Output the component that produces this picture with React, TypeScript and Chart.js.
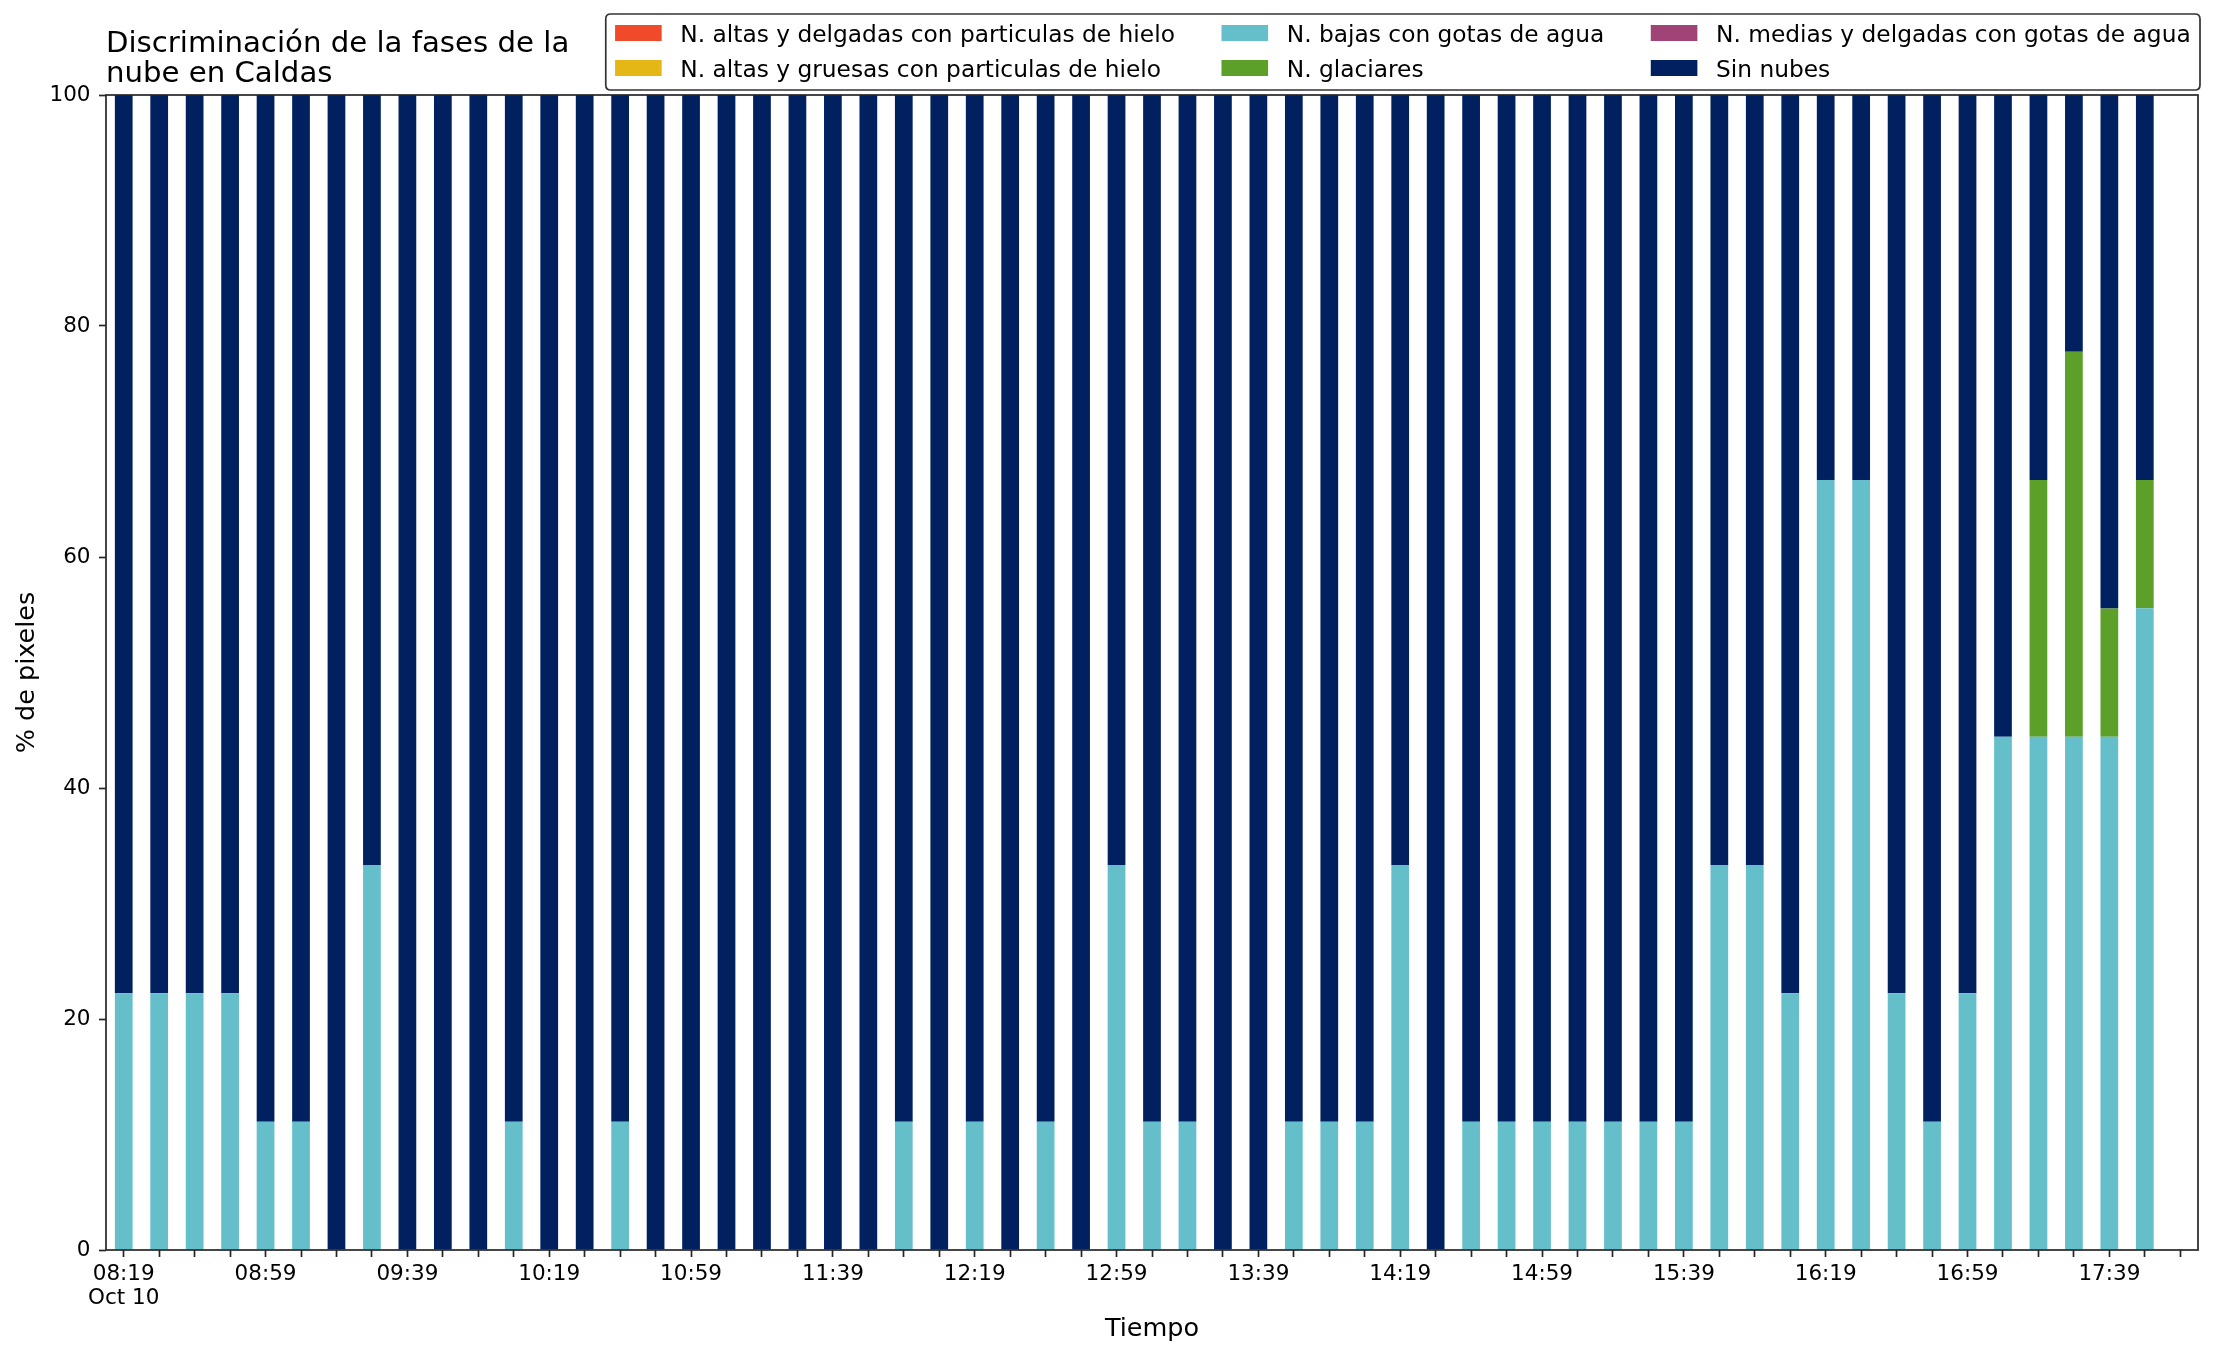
import React, { useEffect, useRef } from 'react';
import { Chart, registerables } from 'chart.js';

Chart.register(...registerables);

const TITLE_LINES = ['Discriminación de la fases de la', 'nube en Caldas'];
const X_TITLE = 'Tiempo';
const Y_TITLE = '% de pixeles';
const DATE_LABEL = 'Oct 10';

const TIMES = [
  '08:19', '08:29', '08:39', '08:49', '08:59',
  '09:09', '09:19', '09:29', '09:39', '09:49', '09:59',
  '10:09', '10:19', '10:29', '10:39', '10:49', '10:59',
  '11:09', '11:19', '11:29', '11:39', '11:49', '11:59',
  '12:09', '12:19', '12:29', '12:39', '12:49', '12:59',
  '13:09', '13:19', '13:29', '13:39', '13:49', '13:59',
  '14:09', '14:19', '14:29', '14:39', '14:49', '14:59',
  '15:09', '15:19', '15:29', '15:39', '15:49', '15:59',
  '16:09', '16:19', '16:29', '16:39', '16:49', '16:59',
  '17:09', '17:19', '17:29', '17:39', '17:49', '17:59',
];

const SERIES_NAMES = [
  'N. altas y delgadas con particulas de hielo',
  'N. altas y gruesas con particulas de hielo',
  'N. bajas con gotas de agua',
  'N. glaciares',
  'N. medias y delgadas con gotas de agua',
  'Sin nubes',
];

const SERIES_COLORS = ['#F04A2B', '#E4B716', '#64BFCA', '#5C9F29', '#A04376', '#00205F'];

const altasDelgadas = [
  0, 0, 0, 0, 0, 0, 0, 0, 0, 0, 0, 0, 0, 0, 0, 0, 0, 0, 0, 0,
  0, 0, 0, 0, 0, 0, 0, 0, 0, 0, 0, 0, 0, 0, 0, 0, 0, 0, 0, 0,
  0, 0, 0, 0, 0, 0, 0, 0, 0, 0, 0, 0, 0, 0, 0, 0, 0, 0, null,
];

const altasGruesas = [
  0, 0, 0, 0, 0, 0, 0, 0, 0, 0, 0, 0, 0, 0, 0, 0, 0, 0, 0, 0,
  0, 0, 0, 0, 0, 0, 0, 0, 0, 0, 0, 0, 0, 0, 0, 0, 0, 0, 0, 0,
  0, 0, 0, 0, 0, 0, 0, 0, 0, 0, 0, 0, 0, 0, 0, 0, 0, 0, null,
];

const bajasGotas = [
  22.22, 22.22, 22.22, 22.22, 11.11, 11.11, 0, 33.33, 0, 0,
  0, 11.11, 0, 0, 11.11, 0, 0, 0, 0, 0,
  0, 0, 11.11, 0, 11.11, 0, 11.11, 0, 33.33, 11.11,
  11.11, 0, 0, 11.11, 11.11, 11.11, 33.33, 0, 11.11, 11.11,
  11.11, 11.11, 11.11, 11.11, 11.11, 33.33, 33.33, 22.22, 66.67, 66.67,
  22.22, 11.11, 22.22, 44.44, 44.44, 44.44, 44.44, 55.56, null,
];

const glaciares = [
  0, 0, 0, 0, 0, 0, 0, 0, 0, 0, 0, 0, 0, 0, 0, 0, 0, 0, 0, 0,
  0, 0, 0, 0, 0, 0, 0, 0, 0, 0, 0, 0, 0, 0, 0, 0, 0, 0, 0, 0,
  0, 0, 0, 0, 0, 0, 0, 0, 0, 0, 0, 0, 0, 0, 22.22, 33.33, 11.11, 11.11, null,
];

const mediasGotas = [
  0, 0, 0, 0, 0, 0, 0, 0, 0, 0, 0, 0, 0, 0, 0, 0, 0, 0, 0, 0,
  0, 0, 0, 0, 0, 0, 0, 0, 0, 0, 0, 0, 0, 0, 0, 0, 0, 0, 0, 0,
  0, 0, 0, 0, 0, 0, 0, 0, 0, 0, 0, 0, 0, 0, 0, 0, 0, 0, null,
];

const sinNubes = [
  77.78, 77.78, 77.78, 77.78, 88.89, 88.89, 100, 66.67, 100, 100,
  100, 88.89, 100, 100, 88.89, 100, 100, 100, 100, 100,
  100, 100, 88.89, 100, 88.89, 100, 88.89, 100, 66.67, 88.89,
  88.89, 100, 100, 88.89, 88.89, 88.89, 66.67, 100, 88.89, 88.89,
  88.89, 88.89, 88.89, 88.89, 88.89, 66.67, 66.67, 77.78, 33.33, 33.33,
  77.78, 88.89, 77.78, 55.56, 33.33, 22.22, 44.44, 33.33, null,
];

const SERIES_VALUES = [altasDelgadas, altasGruesas, bajasGotas, glaciares, mediasGotas, sinNubes];

const FONT = '"DejaVu Sans", "Noto Sans", sans-serif';
const AXIS_COLOR = '#262626';

const decorPlugin = {
  id: 'decor',
  afterDraw(chart: any) {
    const { ctx, chartArea: a } = chart;
    ctx.save();
    // frame (all four spines)
    ctx.strokeStyle = AXIS_COLOR;
    ctx.lineWidth = 1.7;
    ctx.strokeRect(a.left, a.top, a.right - a.left, a.bottom - a.top);

    // title
    ctx.fillStyle = '#000';
    ctx.textAlign = 'left';
    ctx.textBaseline = 'alphabetic';
    ctx.font = `29.2px ${FONT}`;
    TITLE_LINES.forEach((t, i) => ctx.fillText(t, a.left, a.top - 43 + i * 30));

    // legend (column-major, 3 columns x 2 rows)
    const em = 23.3;
    ctx.font = `${em}px ${FONT}`;
    const ds = chart.data.datasets;
    const nCols = 3;
    const nRows = 2;
    const handleLen = 2 * em;
    const handlePad = 0.8 * em;
    const colSpace = 2 * em;
    const borderPad = 0.4 * em;
    const colWidths: number[] = [];
    for (let c = 0; c < nCols; c++) {
      let w = 0;
      for (let r = 0; r < nRows; r++) {
        const d = ds[c * nRows + r];
        if (d) w = Math.max(w, ctx.measureText(d.label).width);
      }
      colWidths.push(handleLen + handlePad + w);
    }
    const totalW = 2 * borderPad + colWidths.reduce((s, v) => s + v, 0) + colSpace * (nCols - 1);
    const boxRight = a.right + 2;
    const boxLeft = boxRight - totalW;
    const boxBottom = a.top - 5;
    const boxTop = boxBottom - 76;
    const rad = 5;
    ctx.beginPath();
    ctx.moveTo(boxLeft + rad, boxTop);
    ctx.lineTo(boxRight - rad, boxTop);
    ctx.quadraticCurveTo(boxRight, boxTop, boxRight, boxTop + rad);
    ctx.lineTo(boxRight, boxBottom - rad);
    ctx.quadraticCurveTo(boxRight, boxBottom, boxRight - rad, boxBottom);
    ctx.lineTo(boxLeft + rad, boxBottom);
    ctx.quadraticCurveTo(boxLeft, boxBottom, boxLeft, boxBottom - rad);
    ctx.lineTo(boxLeft, boxTop + rad);
    ctx.quadraticCurveTo(boxLeft, boxTop, boxLeft + rad, boxTop);
    ctx.closePath();
    ctx.fillStyle = 'rgba(255,255,255,0.8)';
    ctx.fill();
    ctx.strokeStyle = '#333333';
    ctx.lineWidth = 1.7;
    ctx.stroke();

    let x = boxLeft + borderPad;
    for (let c = 0; c < nCols; c++) {
      for (let r = 0; r < nRows; r++) {
        const d = ds[c * nRows + r];
        if (!d) continue;
        const cy = boxTop + 19 + r * 35;
        ctx.fillStyle = d.backgroundColor;
        ctx.fillRect(x, cy - 8, handleLen, 16);
        ctx.fillStyle = '#000';
        ctx.fillText(d.label, x + handleLen + handlePad, cy + 9);
      }
      x += colWidths[c] + colSpace;
    }
    ctx.restore();
  },
};

export default function App() {
  const ref = useRef<HTMLCanvasElement | null>(null);

  useEffect(() => {
    if (!ref.current) return;
    Chart.defaults.font.family = FONT;
    const datasets = SERIES_NAMES.map((name, i) => ({
      label: name,
      data: SERIES_VALUES[i],
      backgroundColor: SERIES_COLORS[i],
      borderWidth: 0,
      barPercentage: 0.5,
      categoryPercentage: 1.0,
    }));
    const chart = new Chart(ref.current, {
      type: 'bar',
      data: { labels: TIMES, datasets },
      options: {
        animation: false,
        responsive: false,
        events: [],
        layout: { padding: { top: 95, right: 18, left: 0, bottom: 0 } },
        plugins: {
          legend: { display: false },
          title: { display: false },
          tooltip: { enabled: false },
        },
        scales: {
          x: {
            stacked: true,
            offset: true,
            grid: {
              offset: false,
              drawOnChartArea: false,
              drawTicks: true,
              tickLength: 7,
              tickWidth: 1.7,
              tickColor: AXIS_COLOR,
            },
            border: { display: false },
            ticks: {
              autoSkip: false,
              maxRotation: 0,
              minRotation: 0,
              padding: 5,
              color: '#000',
              font: { size: 21.5, lineHeight: '24px', family: FONT },
              callback: (_v: any, i: number) => {
                if (i % 4 !== 0) return '';
                return i === 0 ? [TIMES[i], DATE_LABEL] : TIMES[i];
              },
            },
            title: {
              display: true,
              text: X_TITLE,
              color: '#000',
              font: { size: 25.5, lineHeight: 1.2, family: FONT },
              padding: { top: 0, bottom: 10 },
            },
            afterFit: (s: any) => {
              s.height = 105;
            },
          },
          y: {
            stacked: true,
            min: 0,
            max: 100,
            grid: {
              drawOnChartArea: false,
              drawTicks: true,
              tickLength: 7,
              tickWidth: 1.7,
              tickColor: AXIS_COLOR,
            },
            border: { display: false },
            ticks: {
              stepSize: 20,
              padding: 8.5,
              color: '#000',
              font: { size: 21.5, family: FONT },
            },
            title: {
              display: true,
              text: Y_TITLE,
              color: '#000',
              font: { size: 25.5, lineHeight: 1.2, family: FONT },
              padding: { top: 12, bottom: 0 },
            },
            afterFit: (s: any) => {
              s.width = 106;
            },
          },
        },
      } as any,
      plugins: [decorPlugin],
    });
    return () => chart.destroy();
  }, []);

  return (
    <div style={{ position: 'absolute', left: 0, top: 0, width: 2216, height: 1355, background: '#fff' }}>
      <canvas ref={ref} width={2216} height={1355} style={{ display: 'block', width: 2216, height: 1355 }} />
    </div>
  );
}
